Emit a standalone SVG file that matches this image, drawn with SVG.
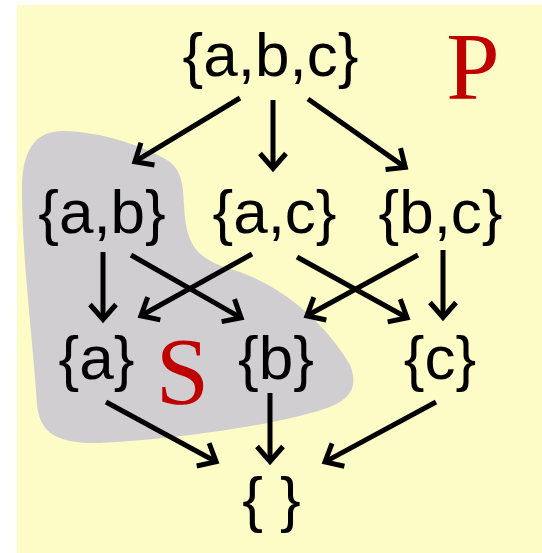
<svg xmlns="http://www.w3.org/2000/svg" width="542" height="553" viewBox="0 0 542 553">
<style>
.n{font-family:"Liberation Sans",Arial,sans-serif;font-size:62px;fill:#000;text-anchor:middle}
.lab{font-family:"Liberation Serif","Times New Roman",serif;font-size:96px;fill:#C00000;text-anchor:middle}
.e{stroke:#000;stroke-width:5;fill:none;marker-end:url(#ah)}
</style>
<defs>
<marker id="ah" markerUnits="userSpaceOnUse" markerWidth="40" markerHeight="40" refX="0" refY="0" orient="auto" overflow="visible">
<path d="M-15,-13 L0,0 L-15,13" fill="none" stroke="#000" stroke-width="5" stroke-linecap="butt" stroke-linejoin="miter"/>
</marker>
</defs>
<rect x="17" y="5" width="525" height="548" fill="#FDFBC6"/>
<path id="S-region" d="M63,131 C100,131 150,148 170,162 C182,172 183,185 184,205 C186,245 195,260 240,272 C290,290 330,330 350,365 C358,385 352,398 330,407 C280,425 170,440 100,443 C55,444 40,432 37,405 C33,340 22,260 22,190 C22,150 35,131 63,131 Z" fill="#D0CED1"/>
<g id="connectors">
<line class="e" x1="240" y1="98" x2="134.9" y2="161.7"/>
<line class="e" x1="273" y1="100" x2="273" y2="168.5"/>
<line class="e" x1="308" y1="99" x2="405.3" y2="167.4"/>
<line class="e" x1="103" y1="252" x2="103" y2="319.5"/>
<line class="e" x1="131" y1="255" x2="241.1" y2="317.8"/>
<line class="e" x1="252" y1="254" x2="140.9" y2="315.8"/>
<line class="e" x1="297" y1="257" x2="407.1" y2="317.8"/>
<line class="e" x1="418" y1="255" x2="306.9" y2="315.8"/>
<line class="e" x1="443" y1="250" x2="443" y2="317.5"/>
<line class="e" x1="106" y1="402" x2="216.1" y2="461.8"/>
<line class="e" x1="270" y1="393" x2="270" y2="461.5"/>
<line class="e" x1="436" y1="402" x2="325" y2="461.9"/>
</g>
<g id="n-abc"><text class="n" x="270.5" y="76">{a,b,c}</text></g>
<g id="n-ab"><text class="n" x="102" y="233">{a,b}</text></g>
<g id="n-ac"><text class="n" x="274.5" y="233">{a,c}</text></g>
<g id="n-bc"><text class="n" x="440.5" y="233">{b,c}</text></g>
<g id="n-a"><text class="n" x="96.5" y="379">{a}</text></g>
<g id="n-b"><text class="n" x="276" y="379">{b}</text></g>
<g id="n-c"><text class="n" x="440" y="379">{c}</text></g>
<g id="n-empty"><text class="n" x="271.5" y="520">{ }</text></g>
<text class="lab" x="473" y="99">P</text>
<text class="lab" x="182.5" y="404">S</text>
</svg>
